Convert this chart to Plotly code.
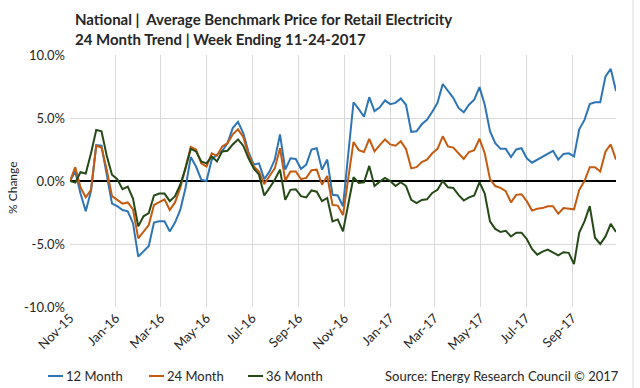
import plotly.graph_objects as go
import pandas as pd

# ---------------- data ----------------
week_ending = pd.date_range("2015-11-27", periods=105, freq="7D")

month12 = [0, 0.75, -1.0, -2.4, -0.8, 2.85, 2.8, 0.5, -1.8, -2.0,
           -2.3, -2.4, -3.35, -6.0, -5.6, -5.15, -3.3, -3.2, -3.2, -4.0,
           -3.3, -2.3, -0.55, 1.9, 1.15, 0.1, 0.0, 1.7, 2.1, 2.4,
           3.0, 4.2, 4.7, 3.8, 2.3, 1.3, 1.4, 0.15, 0.75, 1.7,
           3.7, 0.9, 1.8, 1.75, 0.95, 1.3, 2.5, 2.6, 0.9, 1.7,
           -1.1, -1.15, -2.0, 2.1, 6.25, 5.7, 5.1, 6.65, 5.55, 5.85,
           6.4, 6.1, 6.2, 6.55, 6.05, 3.9, 3.95, 4.5, 4.85, 5.5,
           6.2, 7.7, 7.1, 6.6, 5.8, 5.45, 6.05, 6.45, 7.45, 6.05,
           3.95, 3.0, 2.55, 2.55, 1.9, 2.5, 2.6, 1.8, 1.45, 1.7,
           1.95, 2.15, 2.4, 1.7, 2.15, 2.2, 1.95, 4.1, 4.85, 6.1,
           6.25, 6.25, 8.3, 8.9, 7.15]

month24 = [0, 1.1, -0.5, -1.3, -0.7, 2.8, 2.65, 0.9, -1.2, -1.5,
           -1.8, -1.7, -2.25, -4.55, -4.0, -3.5, -1.9, -1.65, -1.45, -2.3,
           -1.7, -0.55, 1.0, 2.7, 2.5, 1.4, 1.15, 2.2, 2.0, 2.75,
           3.0, 3.7, 4.1, 3.5, 2.1, 1.15, 0.75, -0.25, 0.4, 1.0,
           2.6, 0.05, 0.75, 0.75, 0.15, 0.25, 0.85, 0.9, -0.3, 0.4,
           -1.9, -1.95, -2.7, 0.2, 3.1, 2.45, 2.3, 3.35, 2.35, 2.85,
           3.3, 2.9, 2.8, 3.15, 2.55, 1.0, 1.1, 1.5, 1.7, 2.2,
           2.55, 3.55, 2.75, 2.65, 2.2, 1.75, 2.3, 2.45, 3.35, 2.2,
           0.15, -0.4, -0.55, -0.8, -1.7, -1.1, -1.05, -1.6, -2.35, -2.2,
           -2.15, -2.0, -2.0, -2.6, -2.15, -2.2, -2.25, -0.7, 0.0, 1.1,
           1.1, 0.75, 2.35, 2.9, 1.7]

month36 = [0, -0.13, 0.7, 0.6, 2.2, 4.05, 3.95, 2.0, 0.5, 0.15,
           -0.65, -0.45, -1.4, -3.6, -2.8, -2.55, -1.15, -1.0, -1.0, -1.6,
           -1.2, -0.3, 1.0, 2.55, 2.35, 1.55, 1.4, 1.95, 1.55, 2.35,
           2.4, 2.9, 3.3, 2.8, 1.8, 1.0, 0.5, -1.15, -0.55, 0.1,
           0.9, -1.5, -0.7, -0.65, -1.2, -1.3, -0.75, -0.85, -1.6, -1.35,
           -3.2, -3.05, -4.0, -1.8, 0.3, -0.15, -0.1, 1.2, -0.4, -0.05,
           0.25, 0.0, -0.4, -0.1, -0.4, -1.5, -1.75, -1.5, -1.45, -0.95,
           -0.7, 0.0, -0.5, -0.55, -1.1, -1.55, -1.3, -1.15, -0.1, -1.0,
           -3.2, -3.8, -4.05, -3.95, -4.4, -4.1, -4.1, -4.6, -5.4, -5.85,
           -5.6, -5.45, -5.7, -5.9, -5.65, -5.7, -6.6, -4.1, -3.2, -2.0,
           -4.5, -5.0, -4.4, -3.4, -4.05]

series_names = ["12 Month", "24 Month", "36 Month"]
series_colors = ["#2E75B6", "#C55A11", "#264A17"]

x_tick_dates = ["2015-11-27", "2016-01-27", "2016-03-27", "2016-05-27",
                "2016-07-27", "2016-09-27", "2016-11-27", "2017-01-27",
                "2017-03-27", "2017-05-27", "2017-07-27", "2017-09-27"]
x_tick_labels = ["Nov-15", "Jan-16", "Mar-16", "May-16", "Jul-16", "Sep-16",
                 "Nov-16", "Jan-17", "Mar-17", "May-17", "Jul-17", "Sep-17"]
y_tick_vals = [-10, -5, 0, 5, 10]
y_tick_labels = ["-10.0%", "-5.0%", "0.0%", "5.0%", "10.0%"]

title_line1 = "National |  Average Benchmark Price for Retail Electricity"
title_line2 = "24 Month Trend | Week Ending 11-24-2017"
y_title = "% Change"
source_text = "Source: Energy Research Council © 2017"

# ---------------- figure ----------------
FONT = "Lato"
W, H = 640, 388
ML, MR, MT, MB = 70, 24, 55, 81
PW, PH = W - ML - MR, H - MT - MB


def px_x(px):
    return (px - ML) / PW


def px_y(py):
    return (H - MB - py) / PH


fig = go.Figure()
for name, vals, col in zip(series_names, [month12, month24, month36], series_colors):
    fig.add_trace(go.Scatter(x=week_ending, y=vals, mode="lines", name=name,
                             line=dict(color=col, width=2), showlegend=False))

fig.update_layout(
    width=W, height=H,
    margin=dict(l=ML, r=MR, t=MT, b=MB),
    paper_bgcolor="white", plot_bgcolor="white",
    font=dict(family=FONT, color="#262626", size=13),
)
fig.update_xaxes(
    type="date", range=[week_ending[0], week_ending[-1]],
    tickvals=x_tick_dates, ticktext=x_tick_labels, tickangle=-45,
    showgrid=True, gridcolor="#D9D9D9", gridwidth=1,
    showline=False, zeroline=False, ticks="",
    tickfont=dict(size=13, family=FONT, color="#262626"),
)
fig.update_yaxes(
    range=[-10, 10], tickvals=y_tick_vals, ticktext=y_tick_labels,
    showgrid=True, gridcolor="#D9D9D9", gridwidth=1,
    zeroline=True, zerolinecolor="black", zerolinewidth=1.5,
    showline=False, ticks="", ticklabelstandoff=4,
    tickfont=dict(size=13, family=FONT, color="#262626"),
)

annotations = [
    dict(text="<b>" + title_line1 + "</b>", x=px_x(73), y=px_y(19), xanchor="left", yanchor="middle",
         font=dict(size=15, family=FONT, color="#262626")),
    dict(text="<b>" + title_line2 + "</b>", x=px_x(73), y=px_y(39), xanchor="left", yanchor="middle",
         font=dict(size=15, family=FONT, color="#262626")),
    dict(text=y_title, x=px_x(12), y=px_y(188), xanchor="center", yanchor="middle", textangle=-90,
         font=dict(size=12, family=FONT, color="#262626")),
    dict(text=source_text, x=px_x(621), y=px_y(376), xanchor="right", yanchor="middle",
         font=dict(size=13, family=FONT, color="#262626")),
]
shapes = []
leg_x = [48, 149, 248]
for lx, name, col in zip(leg_x, series_names, series_colors):
    shapes.append(dict(type="line", xref="paper", yref="paper",
                       x0=px_x(lx), x1=px_x(lx + 15), y0=px_y(376), y1=px_y(376),
                       line=dict(color=col, width=2)))
    annotations.append(dict(text=name, x=px_x(lx + 16), y=px_y(376), xanchor="left", yanchor="middle",
                            font=dict(size=13, family=FONT, color="#262626")))
# chart frame edge on the right
shapes.append(dict(type="line", xref="paper", yref="paper",
                   x0=px_x(633), x1=px_x(633), y0=px_y(0), y1=px_y(388),
                   line=dict(color="#D9D9D9", width=1)))
for a in annotations:
    a.update(xref="paper", yref="paper", showarrow=False)
fig.update_layout(annotations=annotations, shapes=shapes)

fig.write_html("out.html", config={"displayModeBar": False},
               post_script="document.body.style.margin='0';document.body.style.overflow='hidden';")
